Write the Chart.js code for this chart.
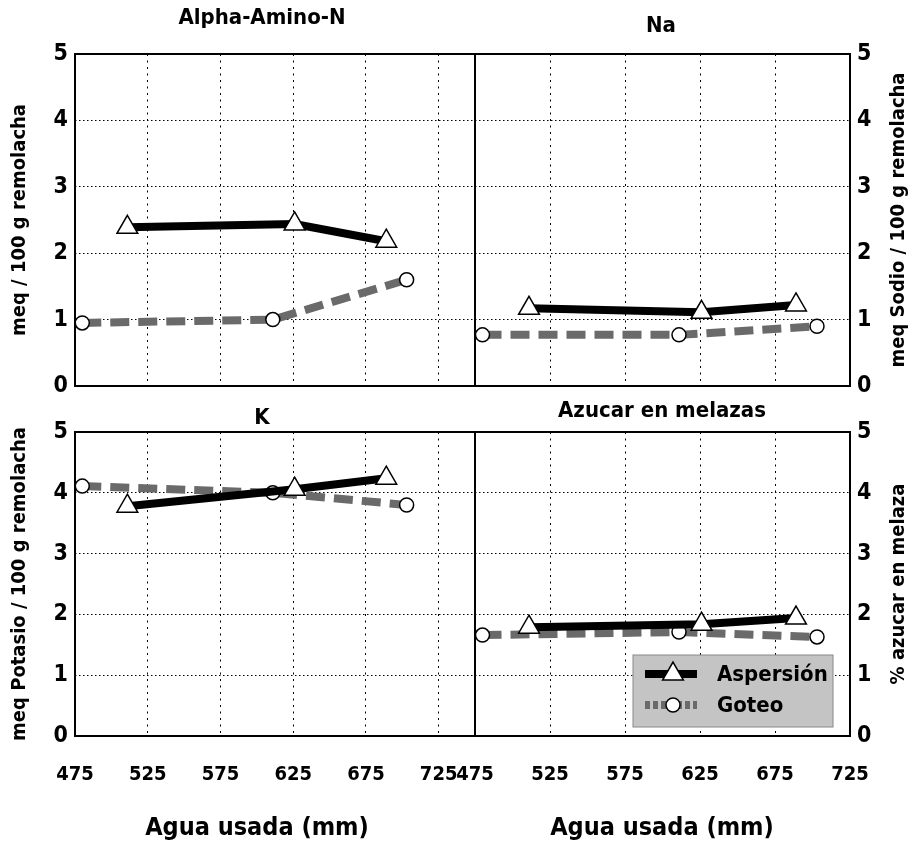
<!DOCTYPE html>
<html>
<head>
<meta charset="utf-8">
<script src="https://cdn.jsdelivr.net/npm/chart.js@4.4.1/dist/chart.umd.min.js"></script>
<style>
body { margin: 0; background: #fff; }
#wrap { position: relative; width: 910px; height: 845px; }
#wrap canvas { position: absolute; left: 0; top: 0; }
</style>
</head>
<body>
<div id="wrap">
  <canvas id="c1" width="910" height="845"></canvas>
  <canvas id="c2" width="910" height="845"></canvas>
  <canvas id="c3" width="910" height="845"></canvas>
  <canvas id="c4" width="910" height="845"></canvas>
</div>
<script>
// x: agua usada (mm), y: values per panel
var xTicks = [475, 525, 575, 625, 675, 725];
var aspX = [511, 626, 689];
var gotX = [480, 611, 703];

var aminoAsp = [2.39, 2.44, 2.18];
var aminoGot = [0.95, 1.0, 1.6];
var naAsp = [1.17, 1.11, 1.22];
var naGot = [0.77, 0.77, 0.9];
var kAsp = [3.78, 4.06, 4.24];
var kGot = [4.11, 4.0, 3.8];
var azAsp = [1.79, 1.84, 1.94];
var azGot = [1.66, 1.71, 1.63];

var FONT = "'DejaVu Sans Condensed', 'Liberation Sans Narrow', 'Liberation Sans', sans-serif";
Chart.defaults.font.family = FONT;
Chart.defaults.color = '#000';

function pts(xs, ys) {
  return xs.map(function (x, i) { return { x: x, y: ys[i] }; });
}

var deco = {
  id: 'deco',
  afterDraw: function (chart, args, o) {
    var ctx = chart.ctx, a = chart.chartArea;
    ctx.save();
    ctx.lineWidth = 2;
    ctx.strokeStyle = '#000';
    ctx.strokeRect(a.left, a.top, a.right - a.left, a.bottom - a.top);
    ctx.fillStyle = '#000';
    ctx.textAlign = 'center';
    ctx.textBaseline = 'middle';
    (o.texts || []).forEach(function (t) {
      ctx.save();
      ctx.translate(t.x, t.y);
      if (t.rot) ctx.rotate(t.rot);
      ctx.font = t.font;
      ctx.fillText(t.text, 0, 0);
      ctx.restore();
    });
    if (o.legend) {
      var L = o.legend;
      ctx.fillStyle = '#c4c4c4';
      ctx.fillRect(L.x, L.y, L.w, L.h);
      ctx.lineWidth = 1;
      ctx.strokeStyle = '#888';
      ctx.strokeRect(L.x, L.y, L.w, L.h);
      chart.data.datasets.forEach(function (ds, i) {
        var cy = L.y + 19 + i * 31;
        ctx.save();
        ctx.strokeStyle = ds.borderColor;
        ctx.lineWidth = ds.borderWidth;
        ctx.setLineDash(ds.borderDash ? [5, 3] : []);
        ctx.beginPath();
        ctx.moveTo(L.x + 12, cy);
        ctx.lineTo(L.x + 64, cy);
        ctx.stroke();
        ctx.setLineDash([]);
        ctx.fillStyle = ds.pointBackgroundColor;
        ctx.strokeStyle = ds.pointBorderColor;
        ctx.lineWidth = ds.pointBorderWidth;
        Chart.helpers.drawPoint(ctx, {
          pointStyle: ds.pointStyle, radius: ds.pointRadius, borderWidth: ds.pointBorderWidth
        }, L.x + 40, cy);
        ctx.restore();
        ctx.save();
        ctx.fillStyle = '#000';
        ctx.textAlign = 'left';
        ctx.textBaseline = 'middle';
        ctx.font = 'bold 22px ' + FONT;
        ctx.fillText(ds.label, L.x + 84, cy + 1);
        ctx.restore();
      });
    }
    ctx.restore();
  }
};

function makePanel(id, cfg) {
  var b = cfg.box;
  var yW = cfg.side === 'left' ? 75 : 60;
  var xH = cfg.showX ? 845 - b.b : 0;
  var pad = {
    top: b.t,
    bottom: 845 - b.b - xH,
    left: cfg.side === 'left' ? b.l - yW : b.l,
    right: cfg.side === 'left' ? 910 - b.r : 910 - b.r - yW
  };
  new Chart(document.getElementById(id), {
    type: 'line',
    data: {
      datasets: [{
        label: 'Aspersión',
        data: pts(aspX, cfg.asp),
        borderColor: '#000',
        borderWidth: 8,
        pointStyle: 'triangle',
        pointRadius: 12,
        pointBackgroundColor: '#fff',
        pointBorderColor: '#000',
        pointBorderWidth: 1.5
      }, {
        label: 'Goteo',
        data: pts(gotX, cfg.got),
        borderColor: '#6a6a6a',
        borderWidth: 8,
        borderDash: [19, 9],
        pointStyle: 'circle',
        pointRadius: 7,
        pointBackgroundColor: '#fff',
        pointBorderColor: '#000',
        pointBorderWidth: 1.5
      }]
    },
    options: {
      responsive: false,
      animation: false,
      layout: { padding: pad },
      scales: {
        x: {
          type: 'linear',
          min: 475,
          max: cfg.xMax,
          afterBuildTicks: function (s) { s.ticks = xTicks.map(function (v) { return { value: v }; }); },
          afterFit: function (s) { s.height = xH; },
          grid: { color: '#000', lineWidth: 1, drawTicks: false },
          border: { display: false, dash: [2, 4.5] },
          ticks: {
            display: cfg.showX,
            padding: 27,
            maxRotation: 0,
            autoSkip: false,
            font: { size: 20, weight: 'bold' }
          }
        },
        y: {
          position: cfg.side,
          min: 0,
          max: 5,
          afterFit: function (s) { s.width = yW; },
          grid: { color: '#000', lineWidth: 1, drawTicks: false },
          border: { display: false, dash: [1.5, 2.5] },
          ticks: { stepSize: 1, padding: 7, font: { size: 23, weight: 'bold' } }
        }
      },
      plugins: {
        legend: { display: false },
        tooltip: { enabled: false },
        deco: { texts: cfg.texts, legend: cfg.legend }
      }
    },
    plugins: [deco]
  });
}

var TF = 'bold 22px ' + FONT;
var AF = 'bold 20px ' + FONT;
var XF = 'bold 25px ' + FONT;
var UP = -Math.PI / 2;

makePanel('c1', {
  box: { l: 75, r: 475, t: 54, b: 386 }, side: 'left', xMax: 750, showX: false,
  asp: aminoAsp, got: aminoGot,
  texts: [
    { text: 'Alpha-Amino-N', x: 262, y: 18, font: TF },
    { text: 'meq / 100 g remolacha', x: 20, y: 220, rot: UP, font: AF }
  ]
});
makePanel('c2', {
  box: { l: 475, r: 850, t: 54, b: 386 }, side: 'right', xMax: 725, showX: false,
  asp: naAsp, got: naGot,
  texts: [
    { text: 'Na', x: 661, y: 26, font: TF },
    { text: 'meq Sodio / 100 g remolacha', x: 899, y: 220, rot: UP, font: AF }
  ]
});
makePanel('c3', {
  box: { l: 75, r: 475, t: 432, b: 736 }, side: 'left', xMax: 750, showX: true,
  asp: kAsp, got: kGot,
  texts: [
    { text: 'K', x: 262, y: 418, font: TF },
    { text: 'meq Potasio / 100 g remolacha', x: 20, y: 584, rot: UP, font: AF },
    { text: 'Agua usada (mm)', x: 257, y: 828, font: XF }
  ]
});
makePanel('c4', {
  box: { l: 475, r: 850, t: 432, b: 736 }, side: 'right', xMax: 725, showX: true,
  asp: azAsp, got: azGot,
  texts: [
    { text: 'Azucar en melazas', x: 662, y: 411, font: TF },
    { text: '% azucar en melaza', x: 899, y: 584, rot: UP, font: AF },
    { text: 'Agua usada (mm)', x: 662, y: 828, font: XF }
  ],
  legend: { x: 633, y: 655, w: 200, h: 72 }
});
</script>
</body>
</html>
